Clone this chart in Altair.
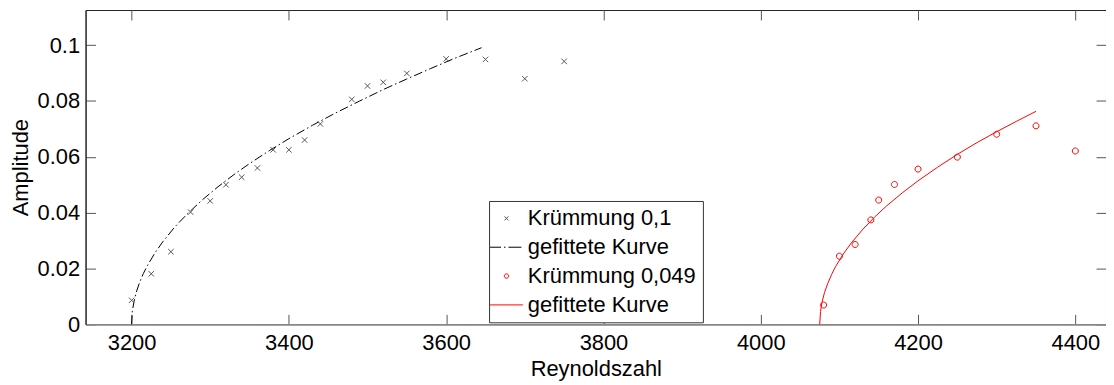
import altair as alt
import pandas as pd

# Measured data: curvature 0.1 (crosses)
re_k1 = [3200, 3225, 3250, 3275, 3300, 3320, 3340, 3360, 3380, 3400,
         3420, 3440, 3480, 3500, 3520, 3550, 3600, 3650, 3700, 3750]
amp_k1 = [0.0086, 0.0181, 0.0260, 0.0402, 0.0442, 0.0500, 0.0527, 0.0560, 0.0625, 0.0625,
          0.0660, 0.0718, 0.0806, 0.0854, 0.0867, 0.0899, 0.0951, 0.0949, 0.0880, 0.0942]

# Fitted curve for curvature 0.1
fit1_re = [3200, 3201, 3203, 3206, 3210, 3215, 3220, 3230, 3240, 3255, 3270, 3290, 3310,
           3330, 3350, 3375, 3400, 3430, 3460, 3490, 3520, 3550, 3580, 3610, 3645]
fit1_amp = [0.0, 0.0047, 0.0081, 0.0115, 0.0149, 0.0182, 0.0210, 0.0257, 0.0297, 0.0349,
            0.0393, 0.0446, 0.0493, 0.0536, 0.0576, 0.0622, 0.0665, 0.0713, 0.0758, 0.0800,
            0.0841, 0.0879, 0.0916, 0.0952, 0.0991]

# Measured data: curvature 0.049 (circles)
re_k2 = [4080, 4100, 4120, 4140, 4150, 4170, 4200, 4250, 4300, 4350, 4400]
amp_k2 = [0.0069, 0.0244, 0.0286, 0.0374, 0.0445, 0.0501, 0.0556, 0.0599, 0.0681, 0.0711, 0.0621]

# Fitted curve for curvature 0.049
fit2_re = [4075, 4076, 4078, 4081, 4085, 4090, 4095, 4105, 4115, 4130, 4145, 4160, 4180,
           4200, 4225, 4250, 4275, 4300, 4325, 4350]
fit2_amp = [0.0, 0.0046, 0.0080, 0.0113, 0.0145, 0.0178, 0.0206, 0.0252, 0.0291, 0.0341,
            0.0385, 0.0424, 0.0471, 0.0514, 0.0563, 0.0609, 0.0651, 0.0690, 0.0727, 0.0763]

legend_labels = ["Krümmung 0,1", "gefittete Kurve", "Krümmung 0,049", "gefittete Kurve "]
legend_colors = ["#555555", "#000000", "#ff0000", "#ff0000"]
x_ticks = [3200, 3400, 3600, 3800, 4000, 4200, 4400]
y_ticks = [0, 0.02, 0.04, 0.06, 0.08, 0.1]

FONT = "Liberation Sans"
W, H = 1026, 316

pts = pd.DataFrame({
    "Re": re_k1 + re_k2,
    "amp": amp_k1 + amp_k2,
    "series": [legend_labels[0]] * len(re_k1) + [legend_labels[2]] * len(re_k2),
})
fit1 = pd.DataFrame({"Re": fit1_re, "amp": fit1_amp})
fit2 = pd.DataFrame({"Re": fit2_re, "amp": fit2_amp})

x_path = "M-0.2,-0.2L0.2,0.2M-0.2,0.2L0.2,-0.2"
circle_path = "M0.22,0A0.22,0.22,0,1,1,-0.22,0A0.22,0.22,0,1,1,0.22,0Z"
dashdot_path = "M-1.65,0L-0.55,0M-0.25,0L-0.1,0M0.2,0L1.5,0"
solid_path = "M-1.65,0L1.65,0"

x_enc = alt.X(
    "Re:Q",
    scale=alt.Scale(domain=[3141.5, 4439], nice=False, zero=False),
    axis=alt.Axis(
        values=x_ticks, format="d", ticks=False, tickSize=0,
        labelFont=FONT, labelFontSize=22, labelColor="black", labelPadding=8,
        labelFlush=False, labelOverlap=False,
        domainColor="#888888", domainWidth=1.5,
        grid=True, gridColor="#555555", gridWidth=1, gridOpacity=1,
        gridDash=[10, H - 20, 10, 0],
        title="Reynoldszahl", titleFont=FONT, titleFontSize=22,
        titleFontWeight="normal", titleColor="black", titlePadding=5,
    ),
)
y_enc = alt.Y(
    "amp:Q",
    scale=alt.Scale(domain=[0, 0.1126], nice=False),
    axis=alt.Axis(
        values=y_ticks, format="~g", ticks=False, tickSize=0,
        labelFont=FONT, labelFontSize=22, labelColor="black", labelPadding=6,
        domainColor="#222222", domainWidth=1,
        grid=True, gridColor="#555555", gridWidth=1, gridOpacity=1,
        gridDash=[10, W - 20, 10, 0],
        title="Amplitude", titleFont=FONT, titleFontSize=22,
        titleFontWeight="normal", titleColor="black", titlePadding=5,
    ),
)

line1 = alt.Chart(fit1).mark_line(color="black", strokeWidth=1, strokeDash=[9, 3, 1.5, 3]).encode(
    x=x_enc, y=y_enc
)
line2 = alt.Chart(fit2).mark_line(color="red", strokeWidth=1).encode(x="Re:Q", y="amp:Q")

leg = alt.Legend(
    title=None, orient="none", legendX=405.7, legendY=192, direction="vertical",
    fillColor="white", strokeColor="#333333", padding=6.5, cornerRadius=0,
    symbolSize=400, symbolStrokeWidth=1, symbolOffset=0,
    labelFont=FONT, labelFontSize=22, labelColor="black", labelOffset=10.5,
    labelLimit=400, rowPadding=7,
)

points = alt.Chart(pts).mark_point(filled=False, size=756, strokeWidth=1, opacity=1).encode(
    x="Re:Q",
    y="amp:Q",
    color=alt.Color("series:N", scale=alt.Scale(domain=legend_labels, range=legend_colors), legend=leg),
    shape=alt.Shape("series:N", scale=alt.Scale(domain=legend_labels,
                    range=[x_path, dashdot_path, circle_path, solid_path]), legend=leg),
)

chart = alt.layer(line1, line2, points).properties(
    width=W, height=H,
    autosize=alt.AutoSizeParams(type="none"),
    padding={"left": 78, "top": 1, "right": 0, "bottom": 60},
).configure_view(stroke="#222222", strokeWidth=1)

chart.save("out.html", embed_options={"renderer": "svg", "actions": False})
